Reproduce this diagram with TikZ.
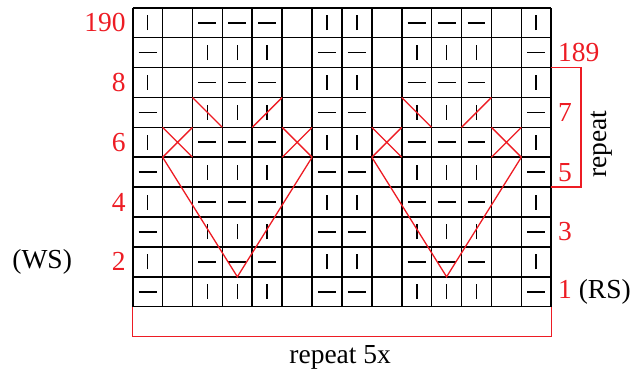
\documentclass[tikz,border=0pt]{standalone}
\usepackage{fontspec}
\setmainfont{Liberation Serif}
\usepackage{xcolor}
\definecolor{chartRed}{RGB}{237,28,36}

\begin{document}
\begin{tikzpicture}[
    x=15pt, y=15pt,
    font=\fontsize{13.8}{16}\selectfont,
    cell/.style={line width=0.8pt, draw=black},
    knit/.style={line width=0.8pt, draw=black},
    chart/.style={line width=0.65pt, draw=chartRed},
    rowno/.style={text=chartRed, inner sep=0pt},
  ]
  \useasboundingbox (-4.44,-2.08) rectangle (16.97,10.26);

  \draw[cell, step=1] (0,0) grid (14,10);

  \foreach \r in {1,3,5,7,9} {
      \foreach \c in {3,4,5,10,11,12} \draw[knit] (\c-0.5,\r-0.75) -- ++(0,0.5);
      \foreach \c in {1,7,8,14} \draw[knit] (\c-0.8,\r-0.5) -- ++(0.6,0);
    }
  \foreach \r in {2,4,6,8,10} {
      \foreach \c in {1,7,8,14} \draw[knit] (\c-0.5,\r-0.75) -- ++(0,0.5);
      \foreach \c in {3,4,5,10,11,12} \draw[knit] (\c-0.8,\r-0.5) -- ++(0.6,0);
    }

  \node[rowno, anchor=east] (l190) at (-0.22,9.5) {190};
  \node[rowno, anchor=east] (l8) at (-0.22,7.5) {8};
  \node[rowno, anchor=east] (l6) at (-0.22,5.5) {6};
  \node[rowno, anchor=east] (l4) at (-0.22,3.5) {4};
  \node[rowno, anchor=east] (l2) at (-0.22,1.5) {2};
  \node (ws) at (-3.03,1.5) {(WS)};

  \node[rowno, anchor=west] (r189) at (14.22,8.5) {189};
  \node[rowno, anchor=west] (r7) at (14.22,6.5) {7};
  \node[rowno, anchor=west] (r5) at (14.22,4.5) {5};
  \node[rowno, anchor=west] (r3) at (14.22,2.5) {3};
  \node[rowno, anchor=west] (r1) at (14.22,0.5) {1 \textcolor{black}{(RS)}};

  \draw[chart] (14,8) -- (15,8) -- (15,4) -- (14,4);
  \node[rotate=90] (rep) at (15.69,5.44) {repeat};
  \draw[chart] (0,0) -- (0,-1) -- (14,-1) -- (14,0);
  \node (rep5) at (6.94,-1.7) {repeat 5x};

  \begin{scope}
    \draw[chart] (1,5) -- (2,6) (1,6) -- (2,5);
    \draw[chart] (5,5) -- (6,6) (5,6) -- (6,5);
    \draw[chart] (2,7) -- (3,6) (4,6) -- (5,7);
    \draw[chart] (1,5) -- (3.5,1) -- (6,5);
  \end{scope}
  \begin{scope}[xshift=105pt]
    \draw[chart] (1,5) -- (2,6) (1,6) -- (2,5);
    \draw[chart] (5,5) -- (6,6) (5,6) -- (6,5);
    \draw[chart] (2,7) -- (3,6) (4,6) -- (5,7);
    \draw[chart] (1,5) -- (3.5,1) -- (6,5);
  \end{scope}
\end{tikzpicture}
\end{document}
